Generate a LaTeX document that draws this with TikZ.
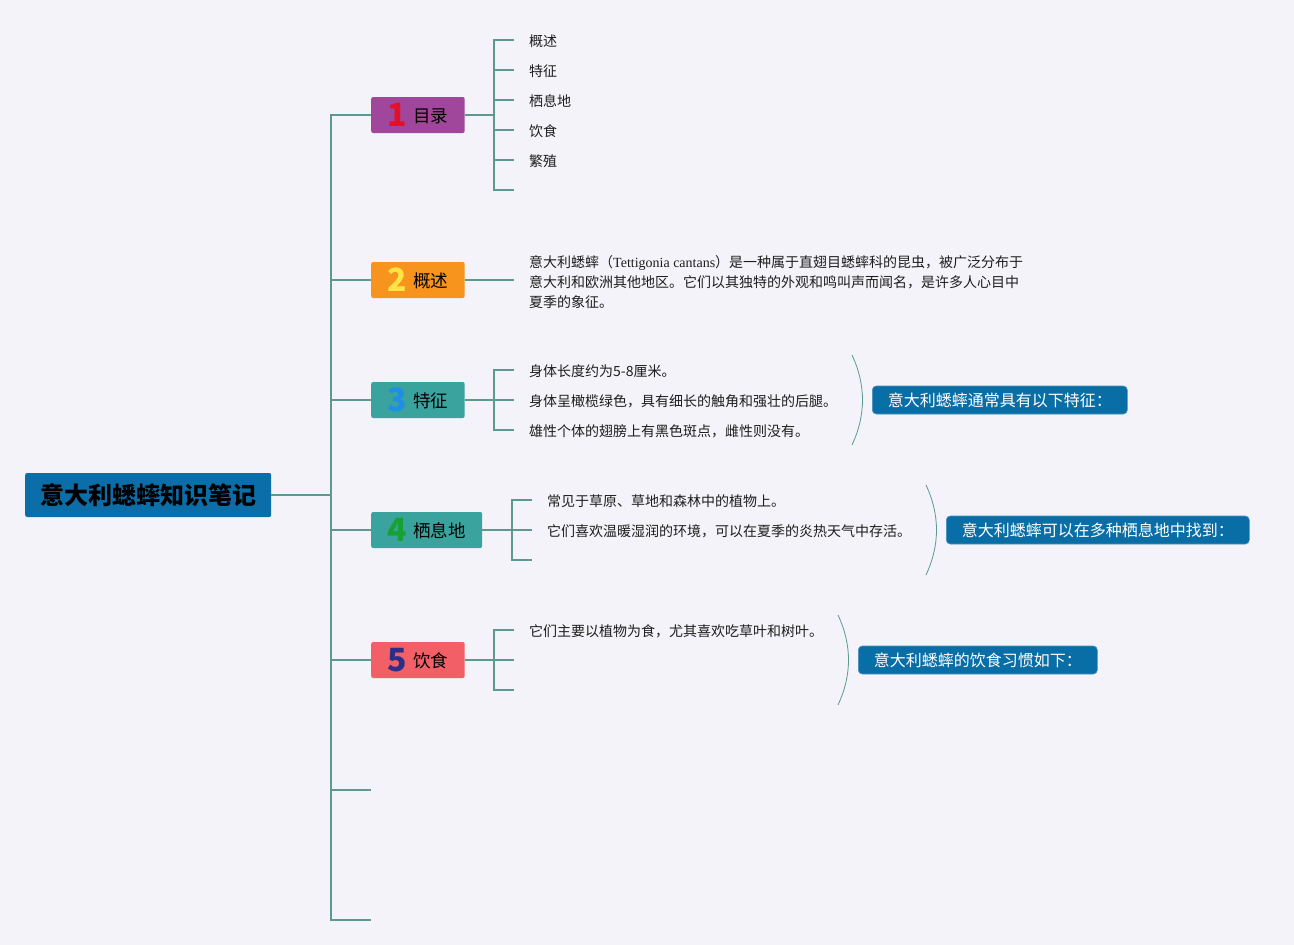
\documentclass[tikz,border=0pt]{standalone}
\usepackage{fontspec}
\setmainfont{Noto Sans CJK SC}
\newfontfamily\latinserif{Liberation Serif}
\definecolor{bgc}{HTML}{F3F3F9}
\definecolor{linec}{HTML}{5B9A8D}
\definecolor{rootblue}{HTML}{0C6EA8}
\definecolor{sumblue}{HTML}{0A6EA6}
\definecolor{purplec}{HTML}{A0469B}
\definecolor{orangec}{HTML}{F7941D}
\definecolor{tealc}{HTML}{3BA39E}
\definecolor{salmonc}{HTML}{F25F67}
\definecolor{numred}{HTML}{E3102B}
\definecolor{numyellow}{HTML}{FFE347}
\definecolor{numblue}{HTML}{1E8EE6}
\definecolor{numgreen}{HTML}{17A034}
\definecolor{numnavy}{HTML}{2B2F88}
\definecolor{textc}{HTML}{1E1E1E}
\newcommand{\bnum}[3]{{\fontsize{32}{32}\selectfont\bfseries\color{#1}#2}\hspace{6pt}\raisebox{4pt}{#3}}
\begin{document}
\begin{tikzpicture}[x=1pt,y=-1pt,
  conn/.style={draw=linec, line width=1.6pt},
  bracec/.style={draw=linec, line width=0.8pt},
  rootbox/.style={fill=rootblue, rounded corners=2pt, minimum width=246pt, minimum height=44pt, inner sep=0pt, font=\fontsize{24}{24}\selectfont\bfseries, text=black, anchor=west},
  branch/.style={rounded corners=2pt, minimum height=36pt, inner xsep=16.5pt, inner ysep=0pt, font=\fontsize{17.5}{18}\selectfont, text=black, anchor=west},
  itemtext/.style={anchor=west, inner sep=0pt, yshift=-1pt, font=\fontsize{14}{20}\selectfont, text=textc},
  summary/.style={fill=sumblue, draw=sumblue!75!white, line width=0.6pt, rounded corners=4pt, minimum height=28pt, inner xsep=15.5pt, inner ysep=0pt, text=white, font=\fontsize{16}{16}\selectfont, anchor=west}
]
\fill[bgc] (0,0) rectangle (1294,945);
\useasboundingbox (0,0) rectangle (1294,945);

% root
\node[rootbox] (root) at (25,495) {意大利蟋蟀知识笔记};

% branch nodes
\node[branch, fill=purplec] (n1) at (371,115) {\bnum{numred}{1}{目录}};
\node[branch, fill=orangec] (n2) at (371,280) {\bnum{numyellow}{2}{概述}};
\node[branch, fill=tealc] (n3) at (371,400) {\bnum{numblue}{3}{特征}};
\node[branch, fill=tealc] (n4) at (371,530) {\bnum{numgreen}{4}{栖息地}};
\node[branch, fill=salmonc] (n5) at (371,660) {\bnum{numnavy}{5}{饮食}};
\coordinate (n6) at (371,790);
\coordinate (n7) at (371,920);

% trunk
\coordinate (tr) at (331,495);
\draw[conn] (root.east) -- (tr);
\draw[conn] (n1.west) -- (331,115) -- (331,920) -- (n7);
\foreach \n/\y in {n2/280,n3/400,n4/530,n5/660,n6/790}
  \draw[conn] (331,\y) -- (\n);

% --- branch 1 items
\coordinate (b1) at (494,115);
\draw[conn] (n1.east) -- (b1);
\draw[conn] (514,40) -- (494,40) -- (494,190) -- (514,190);
\foreach \y in {70,100,130,160} \draw[conn] (494,\y) -- (514,\y);
\node[itemtext] (i11) at (529,40) {概述};
\node[itemtext] (i12) at (529,70) {特征};
\node[itemtext] (i13) at (529,100) {栖息地};
\node[itemtext] (i14) at (529,130) {饮食};
\node[itemtext] (i15) at (529,160) {繁殖};

% --- branch 2
\coordinate (b2) at (514,280);
\draw[conn] (n2.east) -- (b2);
\node[itemtext, align=left] (i21) at (529,281) {意大利蟋蟀（{\latinserif Tettigonia cantans}）是一种属于直翅目蟋蟀科的昆虫，被广泛分布于\\意大利和欧洲其他地区。它们以其独特的外观和鸣叫声而闻名，是许多人心目中\\夏季的象征。};

% --- branch 3
\coordinate (b3) at (494,400);
\draw[conn] (n3.east) -- (b3);
\draw[conn] (514,370) -- (494,370) -- (494,430) -- (514,430);
\draw[conn] (494,400) -- (514,400);
\node[itemtext] (i31) at (529,370) {身体长度约为5-8厘米。};
\node[itemtext] (i32) at (529,400) {身体呈橄榄绿色，具有细长的触角和强壮的后腿。};
\node[itemtext] (i33) at (529,430) {雄性个体的翅膀上有黑色斑点，雌性则没有。};
\draw[bracec] (852,355) .. controls (866,385) and (866,415) .. (852,445);
\node[summary] (s3) at (872,400) {意大利蟋蟀通常具有以下特征：};

% --- branch 4
\coordinate (b4) at (512,530);
\draw[conn] (n4.east) -- (b4);
\draw[conn] (532,500) -- (512,500) -- (512,560) -- (532,560);
\draw[conn] (512,530) -- (532,530);
\node[itemtext] (i41) at (547,500) {常见于草原、草地和森林中的植物上。};
\node[itemtext] (i42) at (547,530) {它们喜欢温暖湿润的环境，可以在夏季的炎热天气中存活。};
\draw[bracec] (926,485) .. controls (940,515) and (940,545) .. (926,575);
\node[summary] (s4) at (946,530) {意大利蟋蟀可以在多种栖息地中找到：};

% --- branch 5
\coordinate (b5) at (494,660);
\draw[conn] (n5.east) -- (b5);
\draw[conn] (514,630) -- (494,630) -- (494,690) -- (514,690);
\draw[conn] (494,660) -- (514,660);
\node[itemtext] (i51) at (529,630) {它们主要以植物为食，尤其喜欢吃草叶和树叶。};
\draw[bracec] (838,615) .. controls (852,645) and (852,675) .. (838,705);
\node[summary] (s5) at (858,660) {意大利蟋蟀的饮食习惯如下：};
\end{tikzpicture}
\end{document}
